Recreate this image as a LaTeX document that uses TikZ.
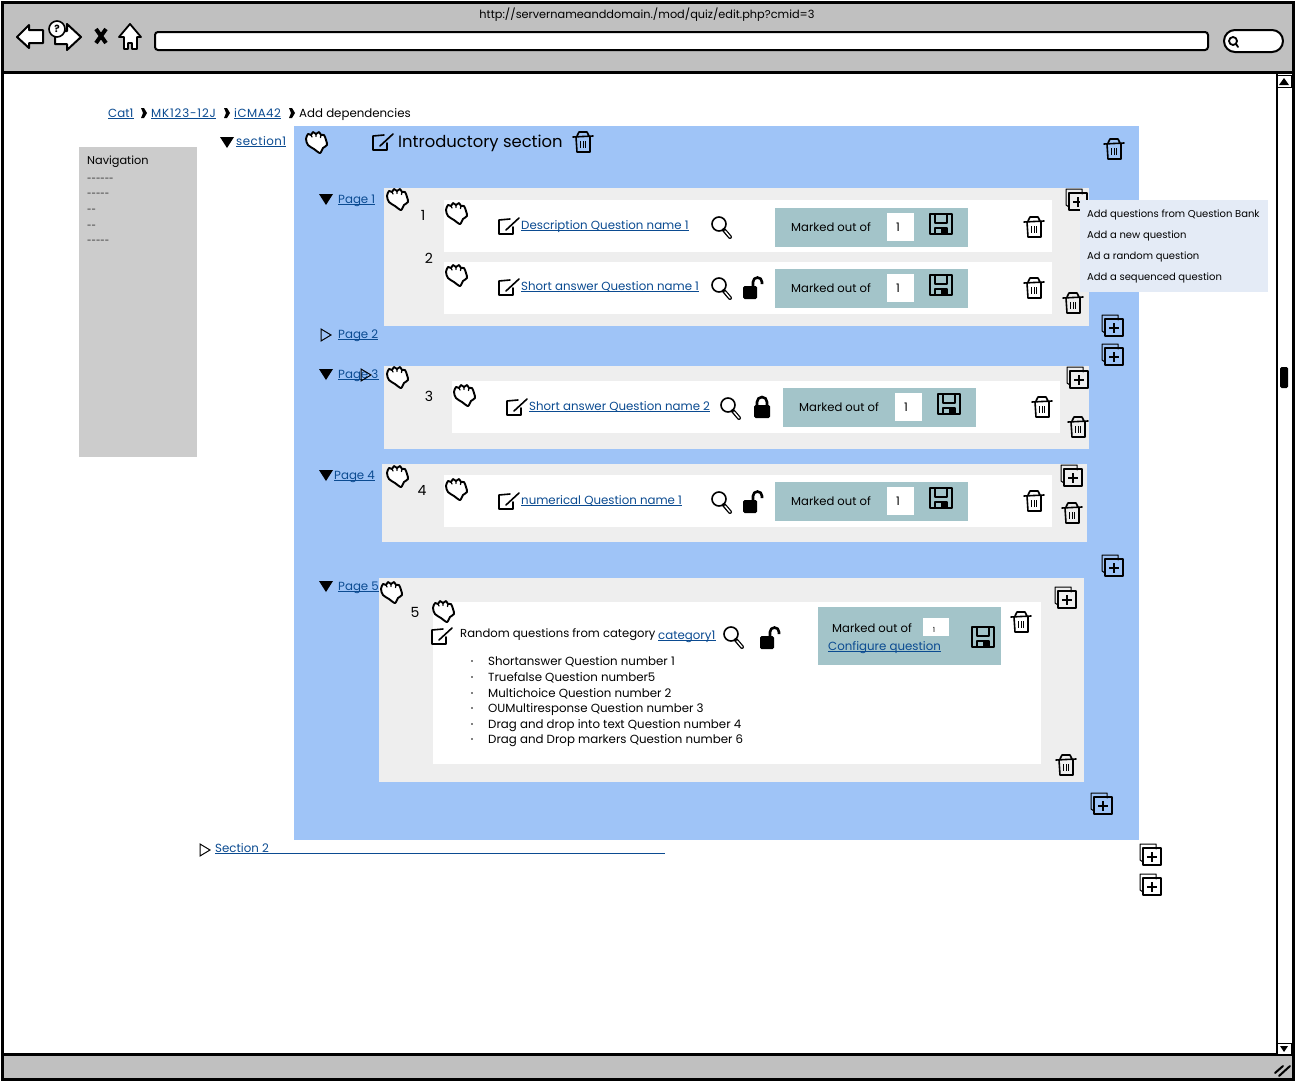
\documentclass[tikz,border=0pt]{standalone}
\usepackage{fontspec}
\setmainfont{Poppins}
\usetikzlibrary{calc}
\definecolor{mybar}{RGB}{192, 192, 192}
\definecolor{mynav}{RGB}{204, 204, 204}
\definecolor{myblue}{RGB}{159, 196, 247}
\definecolor{mygray2}{RGB}{238, 238, 238}
\definecolor{myteal}{RGB}{163, 196, 201}
\definecolor{mymenu}{RGB}{228, 235, 246}
\definecolor{mylink}{RGB}{11, 75, 145}
\tikzset{
  iconline/.style = {black, line width = 1.6pt, line join = round, line cap = round},
  plain/.style = {anchor = west, inner sep = 0pt, text height = 9.5pt, text depth = 1.5pt, font = \fontsize{11.8}{14}\selectfont},
  menutext/.style = {plain, font = \fontsize{10}{12}\selectfont},
  digit/.style = {inner sep = 0pt, font = \fontsize{14}{16}\selectfont},
  linklabel/.style = {plain, text = mylink},
  linkline/.style = {mylink, line width = 0.8pt},
}
\newcommand{\linknode}[3]{\node[linklabel] (#1) at (#2) {#3};
\draw[linkline] (#1.south west) -- (#1.south east);}
\newcommand{\trashicon}[1]{\begin{scope}[shift = {(#1)}]
\draw[iconline] (-10,-5) -- (10,-6);
\draw[iconline] (-6,-6) -- (-4,-10) -- (4,-10) -- (6,-6);
\draw[iconline] (-7,-5) -- (-6,10) -- (7,10) -- (7,-5);
\draw[black, line width = 1pt] (-2.5,-1) -- (-2.5,6) (0,-1) -- (0,6) (2.5,-1) -- (2.5,6);
\end{scope}}
\newcommand{\handicon}[1]{\begin{scope}[shift = {(#1)}]
\draw[iconline, line width = 1.9pt, fill = white] plot [smooth cycle, tension = 0.5]
coordinates{ (-10,-3) (-8,-8) (-5,-7) (-3,-10) (0,-8) (3,-10) (5,-7) (8,-7) (10,-2) (11,3) (7,6) (4,11) (-2,7) (-8,3) };
\draw[iconline, line width = 1.3pt] (-5,-7) -- (-4,-5) (0,-8) -- (0,-5.5) (5,-7) -- (4.5,-4.5);
\end{scope}}
\newcommand{\editicon}[1]{\begin{scope}[shift = {(#1)}]
\draw[iconline] (2,-7) -- (-9,-6) -- (-9,8) -- (5,8) -- (5,1);
\draw[iconline] (-2,4) -- (11,-8);
\end{scope}}
\newcommand{\lensicon}[1]{\begin{scope}[shift = {(#1)}]
\draw[black, line width = 4pt, line cap = round] (3,4) -- (9,11);
\draw[white, line width = 1.4pt, line cap = round] (4,5) -- (9,11);
\draw[iconline] (-2,-2) circle (7);
\end{scope}}
\newcommand{\lockicon}[1]{\begin{scope}[shift = {(#1)}]
\fill[rounded corners = 1.5pt] (-8,-2) rectangle (8,11);
\draw[black, line width = 2.6pt] (-5,-1) -- (-5,-5) arc (180:360:5) -- (5,-1);
\end{scope}}
\newcommand{\unlockicon}[1]{\begin{scope}[shift = {(#1)}]
\fill[rounded corners = 1.5pt] (-11,-1) rectangle (3,12);
\draw[black, line width = 2.6pt] (-1,0) -- (-1,-5) arc (180:360:4.5) -- (8,-3);
\end{scope}}
\newcommand{\diskicon}[1]{\begin{scope}[shift = {(#1)}]
\draw[iconline] (-11,-10) rectangle (11,10);
\draw[iconline, line width = 1.3pt] (-6,-10) -- (-6,-1) -- (6,-1) -- (6,-10);
\draw[iconline, line width = 1.3pt] (-6,10) -- (-6,4) -- (6,4) -- (6,10);
\fill (0,5) rectangle (5,10);
\end{scope}}
\newcommand{\addicon}[1]{\begin{scope}[shift = {(#1)}]
\draw[iconline, line width = 1pt] (5,-6) -- (5,-11) -- (-11,-11) -- (-11,5) -- (-8,7);
\draw[iconline, line width = 1.4pt] (-8,-7) rectangle (10,10);
\draw[black, line width = 1.5pt] (-4,2) -- (6,2) (1,-3) -- (1,7);
\end{scope}}
\newcommand{\closedtri}[1]{\fill[shift = {(#1)}] (-7,-5) -- (7,-5) -- (0,6) -- cycle;}
\newcommand{\opentri}[1]{\draw[shift = {(#1)}, black, line width = 1pt] (-5,-6) -- (5,0) -- (-5,6) -- cycle;}
\newcommand{\chevron}[1]{\fill[shift = {(#1)}] (-3,-5) -- (0,-5) -- (3,0) -- (0,5) -- (-3,5) -- (-1,0) -- cycle;}
\newcommand{\markedbox}[2]{\begin{scope}[shift = {(#2)}]
\fill[myteal] (0,0) rectangle (193,39);
\node[plain, font = \fontsize{11.6}{14}\selectfont] (#1text) at (16,19) {Marked out of};
\fill[white] (112,5) rectangle (139,33);
\node[plain, anchor = center] (#1value) at (123,19) {1};
\diskicon{166,16}
\end{scope}}

\begin{document}
\begin{tikzpicture}[x = 1pt, y = -1pt]
\useasboundingbox (0,0) rectangle (1296,1082);
% window
\draw[black, line width = 3pt, fill = white] (2,2) rectangle (1293,1079);
\draw[black, line width = 3pt, fill = mybar] (2,2) rectangle (1293,72);
\draw[black, line width = 3pt, fill = mybar] (2,1054) rectangle (1293,1079);
\node[plain, anchor = center, font = \fontsize{11.3}{14}\selectfont] (url) at (647,14) {http://servernameanddomain./mod/quiz/edit.php?cmid=3};
\draw[iconline, line width = 2pt, fill = white] (17,37) -- (29,25) -- (29,30) -- (43,30) -- (43,43) -- (29,43) -- (29,48) -- cycle;
\draw[iconline, line width = 2pt, fill = white] (81,37) -- (67,24) -- (67,31) -- (55,31) -- (55,44) -- (67,44) -- (67,50) -- cycle;
\draw[iconline, line width = 1.6pt, fill = white] (57,29) circle (8);
\node[inner sep = 0pt, font = \fontsize{10}{12}\selectfont\bfseries] (help) at (57,29) {?};
\draw[black, line width = 4pt] (96,29) -- (106,43) (106,29) -- (96,43);
\draw[iconline, line width = 1.8pt, fill = white] (130,24) -- (119,37) -- (124,37) -- (124,49) -- (128,49) -- (128,43) -- (132,43) -- (132,49) -- (137,49) -- (137,37) -- (141,37) -- cycle;
\draw[iconline, line width = 2pt, fill = white, rounded corners = 3pt] (155,32) rectangle (1208,50);
\draw[iconline, line width = 2pt, fill = white, rounded corners = 11pt] (1224,30) rectangle (1283,52);
\draw[iconline, line width = 1.8pt] (1233,41) circle (4) (1236,44) -- (1238,47);
% scrollbar
\draw[black, line width = 1.6pt] (1277,74) -- (1277,1054);
\draw[black, line width = 1pt, fill = white] (1277,75) rectangle (1291,87);
\fill (1279,85) -- (1289,85) -- (1284,78) -- cycle;
\draw[black, line width = 1pt, fill = white] (1277,1043) rectangle (1291,1054);
\fill (1280,1046) -- (1288,1046) -- (1284,1052) -- cycle;
\fill[rounded corners = 1.5pt] (1280,367) rectangle (1288,388);
\draw[black, line width = 2pt, line cap = round] (1275,1073) -- (1283,1066) (1279,1076) -- (1290,1066);
% crumbs and navigation
\linknode{catone}{108,113}{Cat1}
\chevron{144,113}
\linknode{course}{151,113}{\addfontfeature{LetterSpace=7}MK123-12J}
\chevron{227,113}
\linknode{quiz}{234,113}{\addfontfeature{LetterSpace=4}iCMA42}
\chevron{292,113}
\node[plain] (crumb) at (299,113) {Add dependencies};
\fill[mynav] (79,147) rectangle (197,457);
\node[plain, font = \fontsize{11.3}{14}\selectfont] (nav) at (87,160) {Navigation};
\foreach \y/\d in {177/{-}{-}{-}{-}{-}{-}, 192/{-}{-}{-}{-}{-}, 208/{-}{-}, 224/{-}{-}, 239/{-}{-}{-}{-}{-}}
  \node[plain, font = \fontsize{8}{10}\selectfont] at (87,\y) {\d};
% section
\closedtri{227,142}
\linknode{secone}{236,141}{\addfontfeature{LetterSpace=4}section1}
\fill[myblue] (294,126) rectangle (1139,840);
\handicon{316,142}
\editicon{382,142}
\node[plain, font = \fontsize{16.4}{19}\selectfont] (intro) at (398,143) {Introductory section};
\trashicon{583,142}
\trashicon{1114,149}

% page 1
\closedtri{326,199}
\linknode{pageone}{338,199}{Page 1}
\fill[mygray2] (384,188) rectangle (1089,326);
\handicon{397,199}
\node[digit] (qone) at (423,215) {1};
\node[digit] (qtwo) at (429,258) {2};
\fill[white] (444,200) rectangle (1052,252);
\handicon{456,213}
\editicon{508,226}
\linknode{descq}{521,225}{Description Question name 1}
\lensicon{721,226}
\markedbox{mone}{775,208}
\trashicon{1034,227}
\fill[white] (444,262) rectangle (1052,314);
\handicon{456,275}
\editicon{508,287}
\linknode{shortq}{521,286}{Short answer Question name 1}
\lensicon{721,287}
\unlockicon{754,287}
\markedbox{mtwo}{775,269}
\trashicon{1034,288}
\trashicon{1073,303}
\addicon{1077,200}

% page 2
\opentri{326,335}
\linknode{pagetwo}{338,334}{Page 2}
\addicon{1113,326}
\addicon{1113,355}

% page 3
\closedtri{326,374}
\linknode{pagethree}{338,374}{Page 3}
\opentri{366,375}
\fill[mygray2] (384,366) rectangle (1089,449);
\handicon{397,377}
\node[digit] (qthree) at (429,396) {3};
\fill[white] (452,381) rectangle (1060,433);
\handicon{464,395}
\editicon{516,407}
\linknode{shorttwo}{529,406}{Short answer Question name 2}
\lensicon{730,407}
\lockicon{762,407}
\markedbox{mthree}{783,388}
\trashicon{1042,407}
\trashicon{1078,427}
\addicon{1078,378}

% page 4
\closedtri{326,475}
\linknode{pagefour}{334,475}{Page 4}
\fill[mygray2] (382,464) rectangle (1087,542);
\handicon{397,476}
\node[digit] (qfour) at (422,490) {4};
\fill[white] (444,475) rectangle (1052,527);
\handicon{456,489}
\editicon{508,501}
\linknode{numq}{521,500}{numerical Question name 1}
\lensicon{721,501}
\unlockicon{754,501}
\markedbox{mfour}{775,482}
\trashicon{1034,501}
\trashicon{1072,513}
\addicon{1072,476}
\addicon{1113,566}

% page 5
\closedtri{326,586}
\linknode{pagefive}{338,586}{Page 5}
\fill[mygray2] (379,578) rectangle (1084,782);
\handicon{391,592}
\node[digit] (qfive) at (415,612) {5};
\fill[white] (433,602) rectangle (1041,764);
\handicon{443,611}
\editicon{441,636}
\node[plain, font = \fontsize{11.6}{14}\selectfont] (randq) at (460,633) {Random questions from category};
\linknode{catlink}{658,635}{category1}
\lensicon{733,636}
\unlockicon{771,637}
\fill[myteal] (818,607) rectangle (1001,665);
\node[plain, font = \fontsize{11.6}{14}\selectfont] (mfivetext) at (832,628) {Marked out of};
\fill[white] (923,618) rectangle (949,636);
\node[inner sep = 0pt, font = \fontsize{7}{8}\selectfont] (mfivevalue) at (934,630) {1};
\linknode{configq}{828,646}{Configure question}
\diskicon{983,637}
\trashicon{1021,622}
\addicon{1066,598}
\trashicon{1066,765}
\addicon{1102,804}
\foreach \y/\t in {661/Shortanswer Question number 1, 677/Truefalse Question number5,
  693/Multichoice Question number 2, 708/OUMultiresponse Question number 3,
  724/Drag and drop into text Question number 4, 739/Drag and Drop markers Question number 6}{
  \fill (472,\y) circle (0.8);
  \node[plain] at (488,\y) {\t};
}

% section 2
\opentri{205,850}
\node[linklabel] (sectwo) at (215,848) {Section 2};
\draw[linkline] (sectwo.south west) -- ++(450,0);
\addicon{1151,855}
\addicon{1151,885}

% add menu
\fill[mymenu] (1080,200) rectangle (1268,292);
\foreach \y/\t in {213/Add questions from Question Bank, 234/Add a new question, 255/Ad a random question, 276/Add a sequenced question}
  \node[menutext] at (1087,\y) {\t};
\end{tikzpicture}
\end{document}
